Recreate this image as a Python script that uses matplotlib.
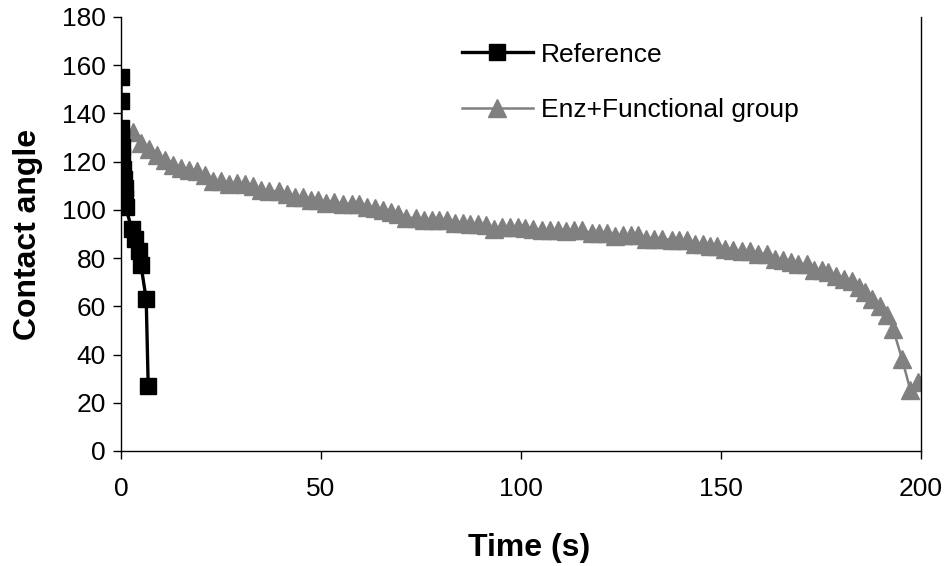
import numpy as np
import matplotlib.pyplot as plt

plt.rcParams['font.family'] = ['Liberation Sans', 'DejaVu Sans']

# Reference surface (black squares)
ref_time = [0.0, 0.0, 0.0, 0.1, 0.2, 0.3, 0.5, 0.7, 0.9, 1.0, 1.2, 2.7, 3.6, 4.6, 5.0, 6.3, 6.8]
ref_angle = [155, 145, 134, 130, 126, 122, 117, 113, 109, 105, 101, 92, 88, 83, 77, 63, 27]

# Enzyme + functional group (grey triangles)
enz_time = [3.0, 5.0, 7.0, 9.0, 11.0, 13.0, 15.0, 17.0, 19.0, 21.0, 23.0, 25.0, 27.0,
            29.0, 31.0, 33.0, 35.0, 37.0, 39.5, 41.6, 43.5, 45.4, 47.4, 49.3, 51.3,
            53.3, 55.6, 57.7, 59.6, 61.4, 63.5, 65.4, 67.4, 69.3, 71.3, 73.8, 75.8,
            77.7, 79.6, 81.6, 83.5, 85.4, 87.3, 89.3, 91.3, 93.3, 95.3, 97.3, 99.2,
            101.0, 103.1, 105.2, 107.3, 109.3, 111.3, 113.3, 115.2, 117.7, 119.6,
            121.6, 123.5, 125.4, 127.4, 129.3, 131.3, 133.3, 135.2, 137.7, 139.6,
            141.6, 143.5, 145.4, 147.3, 149.1, 151.0, 153.1, 155.2, 157.3, 159.3,
            161.4, 163.5, 165.6, 167.4, 169.3, 171.4, 173.3, 175.2, 176.8, 178.8,
            180.8, 182.8, 184.5, 186.0, 187.8, 189.8, 191.5, 193.0, 195.3, 197.3, 199.3]
enz_angle = [132.3, 127.9, 125.1, 122.6, 120.6, 118.7, 117.4, 116.4, 116.0, 114.4, 111.9,
             111.9, 110.9, 111.3, 110.9, 109.9, 108.1, 107.7, 107.8, 106.5, 105.3, 105.3,
             104.2, 104.2, 102.9, 103.3, 102.6, 102.3, 102.3, 101.2, 100.9, 100.1, 99.1,
             98.2, 96.6, 96.8, 95.7, 95.7, 95.7, 95.7, 94.7, 94.7, 94.3, 94.3, 93.6, 92.2,
             92.9, 92.9, 92.9, 92.5, 92.0, 91.5, 91.5, 91.5, 91.2, 91.5, 91.5, 90.4, 90.4,
             90.4, 89.0, 89.5, 89.5, 89.5, 88.1, 88.1, 88.1, 87.4, 87.4, 87.4, 86.0, 86.0,
             84.9, 84.9, 83.9, 83.5, 82.9, 82.9, 81.8, 81.8, 79.8, 79.3, 78.4, 77.4, 77.4,
             75.2, 75.2, 74.2, 72.5, 71.5, 70.5, 68.0, 66.0, 63.0, 60.0, 56.5, 50.7, 38.0,
             25.5, 28.5]

fig = plt.figure(figsize=(9.49, 5.66), dpi=100)
ax = fig.add_axes([121 / 949, 1 - 451 / 566, 800 / 949, 434 / 566])

ax.plot(enz_time, enz_angle, color='#808080', lw=1.8, marker='^', ms=12.5,
        markeredgecolor='#808080', markerfacecolor='#808080', label='Enz+Functional group',
        zorder=2)
ax.plot(ref_time, ref_angle, color='black', lw=2.4, marker='s', ms=11,
        markeredgecolor='black', markerfacecolor='black', label='Reference', zorder=3)

ax.set_xlim(0, 200)
ax.set_ylim(0, 180)
ax.set_xticks([0, 50, 100, 150, 200])
ax.set_yticks(range(0, 181, 20))
ax.tick_params(direction='out', length=6, width=1, labelsize=19)
ax.tick_params(axis='x', pad=13)
ax.tick_params(axis='y', pad=5)
ax.spines['top'].set_visible(False)
for s in ['left', 'bottom', 'right']:
    ax.spines[s].set_linewidth(1)

ax.set_xlabel('Time (s)', fontsize=23, fontweight='bold')
ax.xaxis.label.set_va('center')
ax.xaxis.set_label_coords(0.51, -0.223)
ax.set_ylabel('Contact angle', fontsize=23, fontweight='bold')
ax.yaxis.label.set_va('center')
ax.yaxis.set_label_coords(-0.116, 0.498)

handles, labels = ax.get_legend_handles_labels()
leg = ax.legend(handles[::-1], labels[::-1], loc='upper left', bbox_to_anchor=(0.426, 0.941),
                frameon=False, fontsize=19, handlelength=2.7, labelspacing=1.2,
                handletextpad=0.3, borderpad=0, borderaxespad=0)

fig.savefig('out.png', dpi=100)
